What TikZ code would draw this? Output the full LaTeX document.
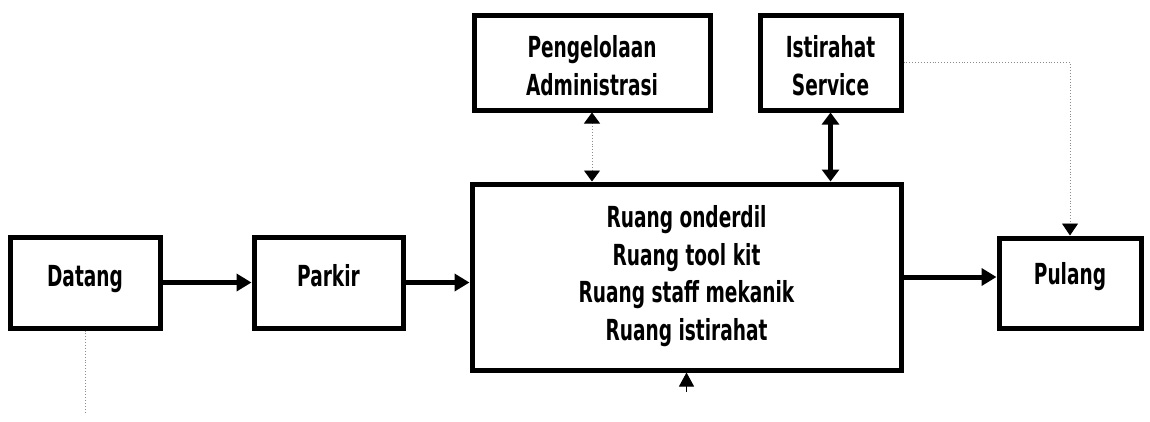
\documentclass[tikz,border=0pt]{standalone}
\usepackage{fontspec}
\newfontfamily\lbl{DejaVu Sans}[FakeStretch=0.64]
\usetikzlibrary{arrows.meta}
\begin{document}
\begin{tikzpicture}[x=1pt,y=-1pt,
  box/.style={draw=black,line width=5pt,inner sep=0pt},
  txt/.style={font=\lbl\bfseries\fontsize{29}{37.5}\selectfont,inner sep=0pt,align=center,anchor=base},
  flow/.style={line width=5pt,-{Triangle[length=15pt,width=17pt]}},
  both/.style={line width=5pt,{Triangle[length=12pt,width=17pt]}-{Triangle[length=12pt,width=17pt]}},
  faint/.style={draw=black!45,line width=0.9pt,dotted},
  fainttip/.style={faint,{Triangle[length=11pt,width=16pt,fill=black,color=black]}-{Triangle[length=11pt,width=16pt,fill=black,color=black]}},
  faintend/.style={faint,-{Triangle[length=12pt,width=16pt,fill=black,color=black]}}
]
\useasboundingbox (0,0) rectangle (1150,421);
% boxes
\node[box,minimum width=150pt,minimum height=91pt] (datang) at (85,282.5) {};
\node[box,minimum width=149pt,minimum height=91pt] (parkir) at (328.5,282.5) {};
\node[box,minimum width=429pt,minimum height=186pt] (main) at (686.5,277) {};
\node[box,minimum width=142pt,minimum height=90pt] (pulang) at (1070,283) {};
\node[box,minimum width=236pt,minimum height=95pt] (admin) at (592,62.5) {};
\node[box,minimum width=141pt,minimum height=95pt] (istirahat) at (830.5,62.5) {};
% texts
\node[txt] (tdatang) at (85,286) {Datang};
\node[txt] (tparkir) at (328.5,286) {Parkir};
\node[txt] (tpulang) at (1070,284) {Pulang};
\node[txt] (tadmin) at (592,95) {Pengelolaan\\Administrasi};
\node[txt] (tistirahat) at (830.5,95) {Istirahat\\Service};
\node[txt] (tmain) at (686.5,340) {Ruang onderdil\\Ruang tool kit\\Ruang staff mekanik\\Ruang istirahat};
% connectors
\draw[flow] (datang.east) -- (parkir.west);
\draw[flow] (parkir.east) -- (parkir.east -| main.west);
\draw[flow] (main.east) -- (main.east -| pulang.west);
\draw[fainttip] (admin.south) -- (admin.south |- main.north);
\draw[both] (istirahat.south) -- (istirahat.south |- main.north);
\draw[faintend] (istirahat.east) -| (pulang.north);
\coordinate (bstub) at (686.5,392);
\draw[line width=1pt,-{Triangle[length=14pt,width=15pt]}] (bstub) -- (main.south);
\coordinate (dend) at (85,413);
\draw[faint] (datang.south) -- (dend);
\end{tikzpicture}
\end{document}
